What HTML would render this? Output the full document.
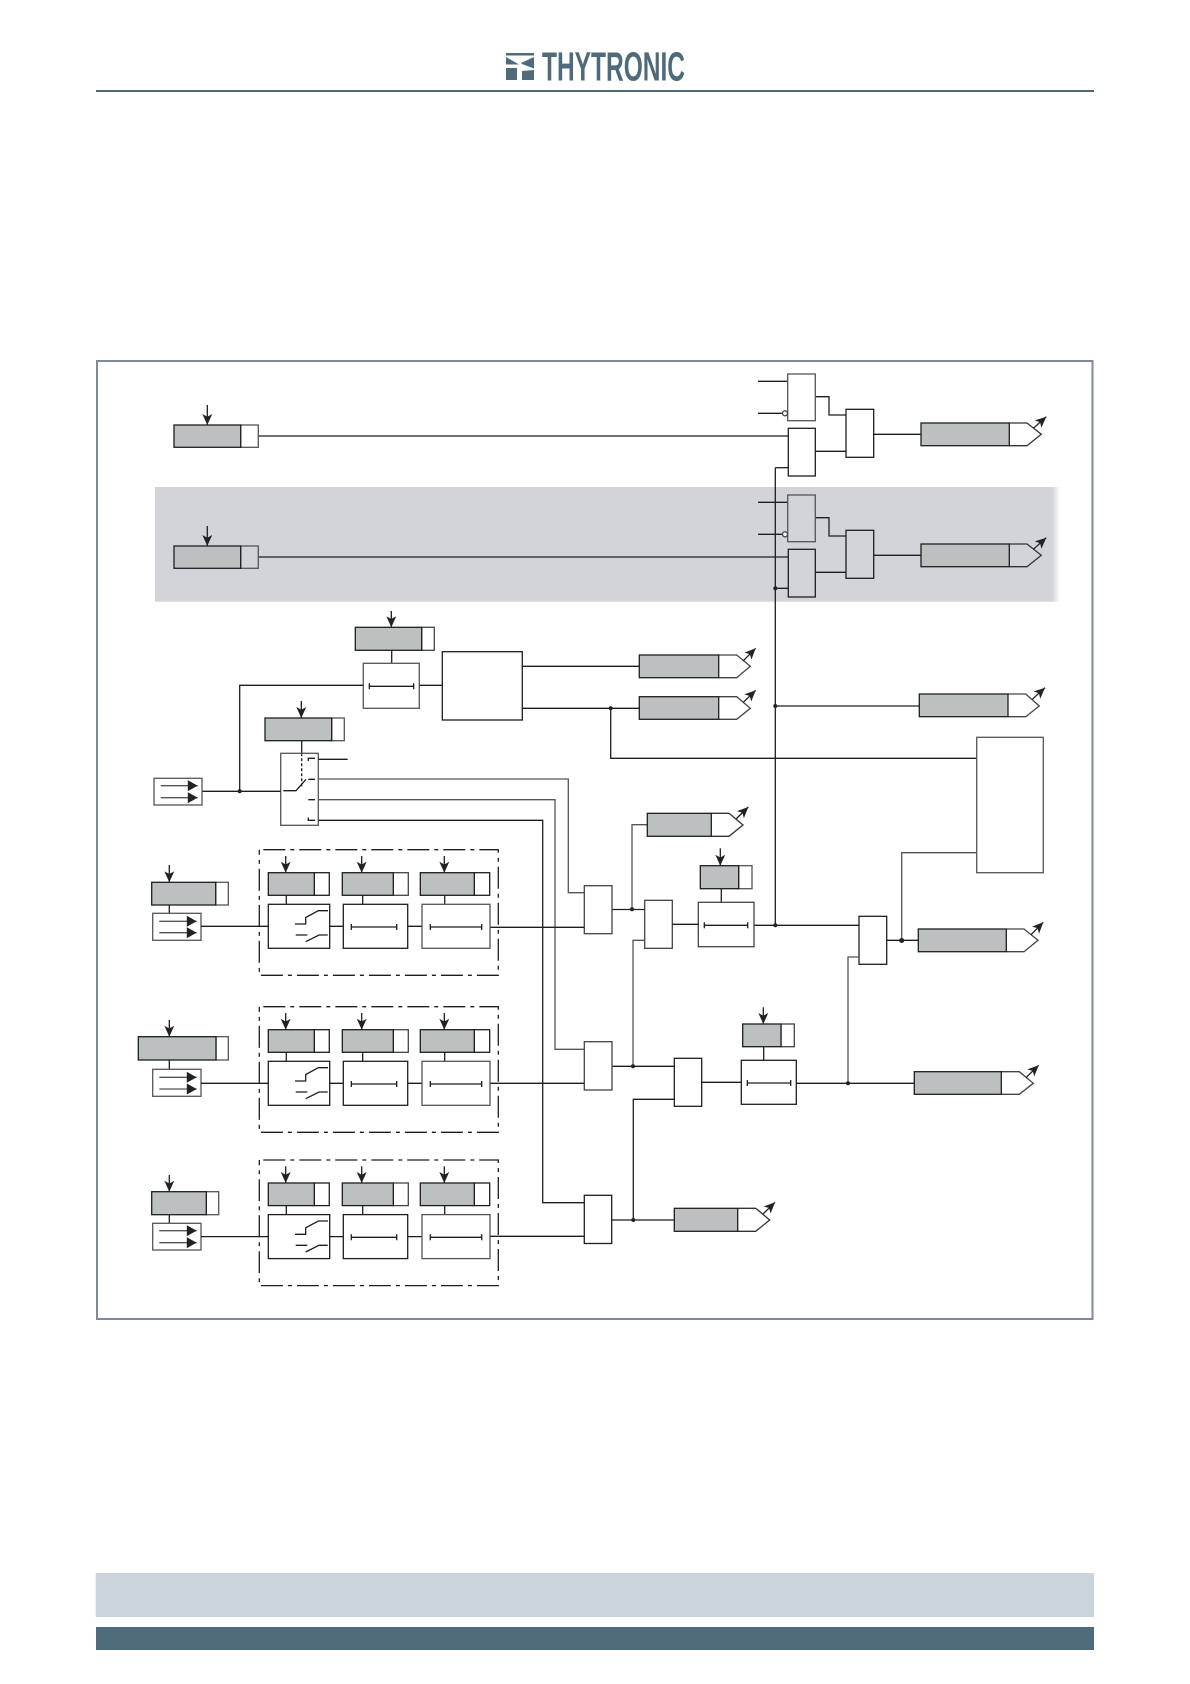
<!DOCTYPE html>
<html><head><meta charset="utf-8"><title>Diagram</title>
<style>html,body{margin:0;padding:0;background:#fff}svg{display:block}</style></head>
<body>
<svg width="1190" height="1684" viewBox="0 0 1190 1684" xmlns="http://www.w3.org/2000/svg">
<defs>
<marker id="a" markerUnits="userSpaceOnUse" viewBox="0 0 10 10" refX="10" refY="5" markerWidth="11" markerHeight="11" orient="auto"><path d="M0 0.500L10 5L0 9.500L2.500 5z" fill="#222"/></marker>
<marker id="t" markerUnits="userSpaceOnUse" viewBox="0 0 10 10" refX="10" refY="5" markerWidth="11" markerHeight="11" orient="auto"><path d="M1 0L10 5L1 10z" fill="#222"/></marker>
<linearGradient id="fr" x1="0" x2="1" y1="0" y2="0"><stop offset="0" stop-color="#d2d4d9"/><stop offset="1" stop-color="#d2d4d9" stop-opacity="0"/></linearGradient>
<linearGradient id="fl" x1="0" x2="1" y1="0" y2="0"><stop offset="0" stop-color="#cbd4da" stop-opacity="0"/><stop offset="1" stop-color="#cbd4da"/></linearGradient>
</defs>

<!-- header -->
<g fill="#4f6b7b">
<path d="M506 53h28v2.500h-28zM506 57l13 7.500-13 0zM534 57v11.500l-12-4.500-1-1zM506 68h11v12h-11zM522 71l12-1v10h-12z"/>
<text x="542" y="80.500" font-family="'Liberation Sans',sans-serif" font-weight="bold" font-size="41" textLength="143" lengthAdjust="spacingAndGlyphs">THYTRONIC</text>
</g>
<rect x="96" y="90" width="998" height="2" fill="#4f6b7b"/>

<!-- footer -->
<rect x="96" y="1573" width="998" height="44" fill="#cbd4da"/>
<rect x="94" y="1573" width="5" height="44" fill="url(#fl)"/>
<rect x="96" y="1627" width="998" height="23" fill="#4f6b7b"/>

<!-- frame -->
<rect x="97" y="361" width="995.500" height="958" fill="#fff" stroke="#7d8a9c" stroke-width="2"/>

<!-- shaded band -->
<rect x="155" y="487" width="897" height="114.700" fill="#d2d4d9"/>
<rect x="1052" y="487" width="8" height="114.700" fill="url(#fr)"/>

<g fill="none" stroke="#1e1e1e" stroke-width="1.300">

<!-- top gates group, repeated -->
<g id="g1">
  <path d="M758 381.300H788M758 413.300H783M815.300 396.700H829V415H846M815.300 451.300H846M873.700 434.300H921"/>
  <path d="M788.300 467.700H775.300"/>
  <rect x="787.700" y="374" width="27.600" height="46.700" stroke="#555"/>
  <circle cx="785" cy="413.300" r="2.500" fill="#fff" stroke="#444"/>
  <rect x="788.300" y="428.300" width="27" height="47.700"/>
  <rect x="846" y="409.300" width="27.700" height="48"/>
  <path d="M1009.300 423H1027L1041.300 434.300L1027 445.700H1009.300" stroke="#333"/>
  <rect x="921" y="423" width="88.300" height="22.700" fill="#bcc0c0"/>
  <path d="M1033.300 428.300L1046.300 416.700" marker-end="url(#a)"/>
  <path d="M258.300 436H788.300"/>
  <rect x="240.700" y="425" width="17.600" height="22.300" stroke="#555"/>
  <rect x="174" y="425" width="66.700" height="22.300" fill="#bcc0c0"/>
  <path d="M207.300 405V425" marker-end="url(#a)"/>
</g>
<g>
  <path d="M758 502.300H788M758 534.300H783M815.300 517.700H829V536H846M815.300 572.300H846M873.700 555.300H921"/>
  <rect x="787.700" y="495" width="27.600" height="46.700" stroke="#555"/>
  <circle cx="785" cy="534.300" r="2.500" fill="#fff" stroke="#444"/>
  <rect x="788.300" y="549.300" width="27" height="47.700"/>
  <rect x="846" y="530.300" width="27.700" height="48"/>
  <path d="M1009.300 544H1027L1041.300 555.300L1027 566.700H1009.300" stroke="#333"/>
  <rect x="921" y="544" width="88.300" height="22.700" fill="#bcc0c0"/>
  <path d="M1033.300 549.300L1046.300 537.700" marker-end="url(#a)"/>
  <path d="M258.300 557H788.300"/>
  <rect x="240.700" y="546" width="17.600" height="22.300" stroke="#555"/>
  <rect x="174" y="546" width="66.700" height="22.300" fill="#bcc0c0"/>
  <path d="M207.300 526V546" marker-end="url(#a)"/>
</g>
<path d="M775.300 467.700V925.300M775.300 588.300H788.300"/>

<!-- timer + big box -->
<rect x="421.700" y="627.300" width="12.600" height="23" stroke="#444"/>
<rect x="355.300" y="627.300" width="66.400" height="23" fill="#bcc0c0"/>
<path d="M391.300 611V627.300" marker-end="url(#a)"/>
<path d="M391.700 650.300V663.300"/>
<rect x="363.300" y="663.300" width="56" height="45" stroke="#555"/>
<path d="M369.300 686.300H413.700M369.300 683.300V689.300M413.700 683.300V689.300"/>
<path d="M363.300 685.300H239.700V791.300M419.300 685.300H442.300"/>
<rect x="442.300" y="651.700" width="80" height="68.300"/>
<path d="M522.300 666.300H639.300M522.300 708.300H639.300M610.700 708.300V758.300H976.700"/>

<!-- O1 O2 O3 -->
<path d="M718.700 655H736.700L750.300 666.300L736.700 677.700H718.700" stroke="#444"/>
<rect x="639.300" y="655" width="79.400" height="22.700" fill="#bcc0c0"/>
<path d="M743.300 660.700L755.700 648.300" marker-end="url(#a)"/>
<path d="M718.700 696.700H736.700L750.300 708.300L736.700 719.300H718.700" stroke="#444"/>
<rect x="639.300" y="696.700" width="79.400" height="22.600" fill="#bcc0c0"/>
<path d="M743.300 702.300L755.700 690.300" marker-end="url(#a)"/>
<path d="M775.300 706H919.300"/>
<path d="M1008 694H1025.700L1039.300 706L1025.700 716.700H1008" stroke="#444"/>
<rect x="919.300" y="694" width="88.700" height="22.700" fill="#bcc0c0"/>
<path d="M1032.300 699.300L1045 687.700" marker-end="url(#a)"/>

<!-- right box -->
<rect x="976.700" y="737.300" width="66.600" height="135.400" stroke="#555"/>
<path d="M976.700 852.700H901.700V940.700" stroke="#555"/>

<!-- O4 + G1 -->
<path d="M1006.300 929H1024L1038 940.300L1024 951.700H1006.300" stroke="#444"/>
<rect x="918.300" y="929" width="88" height="22.700" fill="#bcc0c0"/>
<path d="M1031 934.700L1043.300 922.300" marker-end="url(#a)"/>
<rect x="859" y="916.300" width="27.700" height="48"/>
<path d="M886.700 940.300H918.300M754 925.300H859"/>
<path d="M859 957H848V1083.300" stroke="#555"/>

<!-- T2 G2 O5 -->
<rect x="738.700" y="865.700" width="13.300" height="23" stroke="#555"/>
<rect x="700.300" y="865.700" width="38.400" height="23" fill="#bcc0c0"/>
<path d="M720.300 848.300V865.700" marker-end="url(#a)"/>
<path d="M721.300 888.700V902.300"/>
<rect x="698.300" y="902.300" width="55.700" height="44.400" stroke="#444"/>
<path d="M704.300 925.300H747.700M704.300 922.300V928.300M747.700 922.300V928.300"/>
<rect x="644.700" y="900.300" width="27.600" height="48" stroke="#444"/>
<path d="M672.300 924.300H698.300M612 909.500H644.700"/>
<path d="M632 909.300V824.700H647.300" stroke="#555"/>
<path d="M729 813.300L743 825L729 836.300H711.300M711.300 813.300H729" stroke="#333"/>
<rect x="647.300" y="813.300" width="64" height="23" fill="#bcc0c0"/>
<path d="M736 819L748.300 807" marker-end="url(#a)"/>
<path d="M644.700 940.300H633V1066.300" stroke="#555"/>

<!-- T3 G3 O6 -->
<rect x="674.300" y="1058.300" width="27.400" height="48"/>
<path d="M612 1066.300H674.300M674.300 1099.300H633.300V1220M701.700 1082.300H741.300"/>
<rect x="781" y="1024" width="13.300" height="22.700" stroke="#444"/>
<rect x="742.700" y="1024" width="38.300" height="22.700" fill="#bcc0c0"/>
<path d="M763.300 1007.300V1024" marker-end="url(#a)"/>
<path d="M763.700 1046.700V1060.300"/>
<rect x="741.300" y="1060.300" width="55" height="44"/>
<path d="M747.300 1083H790.700M747.300 1080V1086M790.700 1080V1086"/>
<path d="M796.300 1083.300H914.300"/>
<path d="M1001.300 1071.700H1019.300L1033.300 1083.300L1019.300 1094.300H1001.300" stroke="#444"/>
<rect x="914.300" y="1071.700" width="87" height="22.600" fill="#bcc0c0"/>
<path d="M1026.300 1077.300L1038.700 1065.300" marker-end="url(#a)"/>

<!-- O7 -->
<path d="M612 1220H674.300"/>
<path d="M737.700 1208.300H755.700L769.700 1220L755.700 1231.300H737.700" stroke="#333"/>
<rect x="674.300" y="1208.300" width="63.400" height="23" fill="#bcc0c0"/>
<path d="M762.700 1214.300L775 1202.300" marker-end="url(#a)"/>

<!-- selector switch -->
<rect x="331.700" y="718" width="12.600" height="22.700" stroke="#555"/>
<rect x="265" y="718" width="66.700" height="22.700" fill="#bcc0c0"/>
<path d="M301.300 701V718" marker-end="url(#a)"/>
<path d="M301.700 740.700V753.300"/>
<path d="M301.700 753.300V786.700" stroke-dasharray="3 2"/>
<rect x="280.700" y="753.300" width="37.600" height="72" stroke="#555"/>
<path d="M283.300 790.700H296L306 779.300M308.300 761V758.300H315M308.300 779.300H315M308.300 799.700H315M308.300 817.500V820.300H315" />
<path d="M202 791.300H280.700M318.300 759.300H347.700M318.300 820.300H542.700V1202.700H584.300"/>
<path d="M318.300 779H568.300V892.700H584.300M318.300 799.700H555V1049.300H584.300" stroke="#555"/>

<rect x="154" y="778.300" width="48" height="26.700" stroke="#555"/>
<path d="M160.700 785.700H197.700" stroke="#555" marker-end="url(#t)"/>
<path d="M160.700 797.700H197.700" stroke="#555" marker-end="url(#t)"/>

<!-- right-column gates -->
<rect x="584.300" y="885.700" width="27.700" height="48" stroke="#444"/>
<rect x="584.300" y="1041.700" width="27.700" height="48.300" stroke="#444"/>
<rect x="584.300" y="1195.300" width="27.400" height="48.200"/>
<path d="M584.300 927.300H490M584.300 1083.300H490M584.300 1236.300H490"/>

<!-- left inputs -->
<rect x="215.700" y="882.300" width="12.600" height="22.700" stroke="#555"/>
<rect x="151.700" y="882.300" width="64" height="22.700" fill="#bcc0c0"/>
<path d="M169.300 865V882.300" marker-end="url(#a)"/>
<path d="M169.300 905V913.300"/>
<rect x="152.700" y="913.300" width="48.300" height="27" stroke="#555"/>
<path d="M159.300 921.300H196.700" stroke="#555" marker-end="url(#t)"/>
<path d="M159.300 932.700H196.700" stroke="#555" marker-end="url(#t)"/>

<rect x="216" y="1036.700" width="12.300" height="23.300" stroke="#555"/>
<rect x="138.300" y="1036.700" width="77.700" height="23.300" fill="#bcc0c0"/>
<path d="M169.300 1020V1036.700" marker-end="url(#a)"/>
<path d="M169.300 1060V1069.300"/>
<rect x="152.700" y="1069.300" width="48.300" height="27" stroke="#555"/>
<path d="M159.300 1077.300H196.700" stroke="#555" marker-end="url(#t)"/>
<path d="M159.300 1089H196.700" stroke="#555" marker-end="url(#t)"/>

<rect x="206.300" y="1191.700" width="12.400" height="23" stroke="#555"/>
<rect x="151.700" y="1191.700" width="54.600" height="23" fill="#bcc0c0"/>
<path d="M169.300 1175V1191.700" marker-end="url(#a)"/>
<path d="M169.300 1214.700V1223.300"/>
<rect x="152.700" y="1223.300" width="48.300" height="26.700" stroke="#555"/>
<path d="M159.300 1230.700H196.700" stroke="#555" marker-end="url(#t)"/>
<path d="M159.300 1242.700H196.700" stroke="#555" marker-end="url(#t)"/>

<!-- dashed module 1 -->
<g id="m1">
  <path d="M201 926.300H268.300M329.700 926.300H343.300M407.700 926.300H422"/>
  <rect x="259.300" y="849.700" width="239" height="125.600" stroke-dasharray="22 5 4 5" stroke-dashoffset="-4"/>
  <rect x="314.300" y="872.700" width="15" height="22.600"/>
  <rect x="268.300" y="872.700" width="46" height="22.600" fill="#bcc0c0"/>
  <path d="M285.700 856V872.700" marker-end="url(#a)"/>
  <path d="M286.300 895.300V904.300"/>
  <rect x="268.300" y="904.300" width="61.400" height="44"/>
  <path d="M295 924H305.700V917.500L318.300 910.700H328M295.700 935H307.300M305.700 941.700L319 935H327.700"/>
  <rect x="393.300" y="872.700" width="15" height="22.600" stroke="#444"/>
  <rect x="342.300" y="872.700" width="51" height="22.600" fill="#bcc0c0"/>
  <path d="M361.700 856V872.700" marker-end="url(#a)"/>
  <path d="M362.700 895.300V904.300"/>
  <rect x="343.300" y="904.300" width="64.400" height="44"/>
  <path d="M351.300 927H396.700M351.300 924V930M396.700 924V930"/>
  <rect x="474.300" y="872.700" width="15.400" height="22.600"/>
  <rect x="420.300" y="872.700" width="54" height="22.600" fill="#bcc0c0"/>
  <path d="M444.300 856V872.700" marker-end="url(#a)"/>
  <path d="M444.700 895.300V904.300"/>
  <rect x="422" y="904.300" width="68" height="44" stroke="#555"/>
  <path d="M430.300 927H481.700M430.300 924V930M481.700 924V930"/>
</g>
<g transform="translate(0,157)">
  <path d="M201 926.300H268.300M329.700 926.300H343.300M407.700 926.300H422"/>
  <rect x="259.300" y="849.700" width="239" height="125.600" stroke-dasharray="22 5 4 5" stroke-dashoffset="-4"/>
  <rect x="314.300" y="872.700" width="15" height="22.600"/>
  <rect x="268.300" y="872.700" width="46" height="22.600" fill="#bcc0c0"/>
  <path d="M285.700 856V872.700" marker-end="url(#a)"/>
  <path d="M286.300 895.300V904.300"/>
  <rect x="268.300" y="904.300" width="61.400" height="44"/>
  <path d="M295 924H305.700V917.500L318.300 910.700H328M295.700 935H307.300M305.700 941.700L319 935H327.700"/>
  <rect x="393.300" y="872.700" width="15" height="22.600" stroke="#444"/>
  <rect x="342.300" y="872.700" width="51" height="22.600" fill="#bcc0c0"/>
  <path d="M361.700 856V872.700" marker-end="url(#a)"/>
  <path d="M362.700 895.300V904.300"/>
  <rect x="343.300" y="904.300" width="64.400" height="44"/>
  <path d="M351.300 927H396.700M351.300 924V930M396.700 924V930"/>
  <rect x="474.300" y="872.700" width="15.400" height="22.600"/>
  <rect x="420.300" y="872.700" width="54" height="22.600" fill="#bcc0c0"/>
  <path d="M444.300 856V872.700" marker-end="url(#a)"/>
  <path d="M444.700 895.300V904.300"/>
  <rect x="422" y="904.300" width="68" height="44" stroke="#555"/>
  <path d="M430.300 927H481.700M430.300 924V930M481.700 924V930"/>
</g>
<g transform="translate(0,310.300)">
  <path d="M201 926.300H268.300M329.700 926.300H343.300M407.700 926.300H422"/>
  <rect x="259.300" y="849.700" width="239" height="125.600" stroke-dasharray="22 5 4 5" stroke-dashoffset="-4"/>
  <rect x="314.300" y="872.700" width="15" height="22.600"/>
  <rect x="268.300" y="872.700" width="46" height="22.600" fill="#bcc0c0"/>
  <path d="M285.700 856V872.700" marker-end="url(#a)"/>
  <path d="M286.300 895.300V904.300"/>
  <rect x="268.300" y="904.300" width="61.400" height="44"/>
  <path d="M295 924H305.700V917.500L318.300 910.700H328M295.700 935H307.300M305.700 941.700L319 935H327.700"/>
  <rect x="393.300" y="872.700" width="15" height="22.600" stroke="#444"/>
  <rect x="342.300" y="872.700" width="51" height="22.600" fill="#bcc0c0"/>
  <path d="M361.700 856V872.700" marker-end="url(#a)"/>
  <path d="M362.700 895.300V904.300"/>
  <rect x="343.300" y="904.300" width="64.400" height="44"/>
  <path d="M351.300 927H396.700M351.300 924V930M396.700 924V930"/>
  <rect x="474.300" y="872.700" width="15.400" height="22.600"/>
  <rect x="420.300" y="872.700" width="54" height="22.600" fill="#bcc0c0"/>
  <path d="M444.300 856V872.700" marker-end="url(#a)"/>
  <path d="M444.700 895.300V904.300"/>
  <rect x="422" y="904.300" width="68" height="44" stroke="#555"/>
  <path d="M430.300 927H481.700M430.300 924V930M481.700 924V930"/>
</g>
</g>

<!-- junction dots -->
<g fill="#222">
<circle cx="775.300" cy="588.300" r="2"/>
<circle cx="775.300" cy="706" r="2"/>
<circle cx="775.300" cy="925.300" r="2"/>
<circle cx="239.700" cy="791.300" r="2"/>
<circle cx="610.700" cy="708.300" r="2"/>
<circle cx="632" cy="909.300" r="2"/>
<circle cx="633" cy="1066.300" r="2"/>
<circle cx="633.300" cy="1220" r="2"/>
<circle cx="848" cy="1083.300" r="2"/>
<circle cx="901.700" cy="940.500" r="2.500"/>
</g>
</svg>
</body></html>
